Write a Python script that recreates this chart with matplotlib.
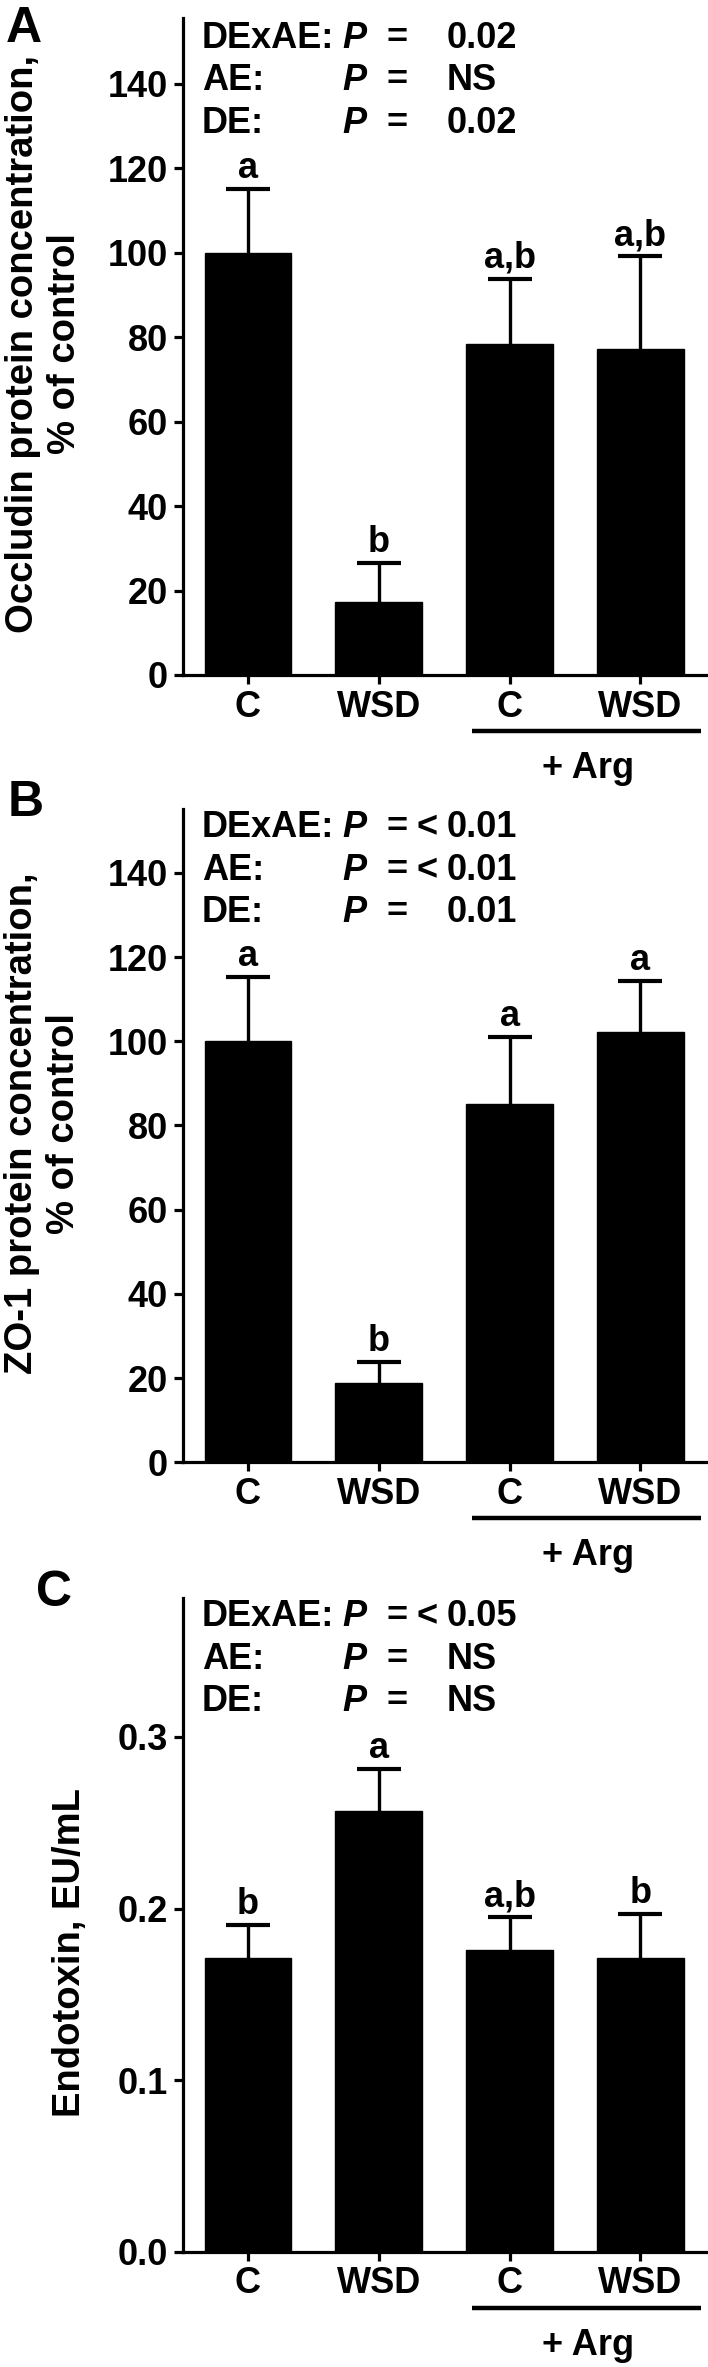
import matplotlib.pyplot as plt
from matplotlib.transforms import blended_transform_factory

plt.rcParams['font.family'] = ['Liberation Sans', 'DejaVu Sans']
plt.rcParams['font.weight'] = 'bold'
plt.rcParams['font.size'] = 26

groups = ['C', 'WSD', 'C', 'WSD']

occludin_mean = [100, 17.4, 78.5, 77.1]
occludin_err = [15.1, 9.2, 15.4, 22.1]
occludin_letters = ['a', 'b', 'a,b', 'a,b']
occludin_stats = [('DExAE:', '', '0.02'), ('AE:', '', 'NS'), ('DE:', '', '0.02')]

zo1_mean = [100, 18.8, 85.2, 102.2]
zo1_err = [15.2, 5.1, 15.8, 12.1]
zo1_letters = ['a', 'b', 'a', 'a']
zo1_stats = [('DExAE:', '<', '0.01'), ('AE:', '<', '0.01'), ('DE:', '', '0.01')]

endo_mean = [0.171, 0.257, 0.176, 0.171]
endo_err = [0.0195, 0.0241, 0.019, 0.026]
endo_letters = ['b', 'a', 'a,b', 'b']
endo_stats = [('DExAE:', '<', '0.05'), ('AE:', '', 'NS'), ('DE:', '', 'NS')]

W, H = 708, 2367
fig = plt.figure(figsize=(W / 100, H / 100), dpi=100)


def add_panel(top, bottom, mean, err, letters, stats, ymax, yticks, ticklabels, stat_y):
    ax = fig.add_axes([182.7 / W, 1 - bottom / H, 1 - 182.7 / W, (bottom - top) / H])
    x = list(range(len(mean)))
    ax.bar(x, mean, width=0.66, color='black', edgecolor='black', zorder=2)
    _, caps, _ = ax.errorbar(x, mean, yerr=[[0] * len(err), err], fmt='none',
                             ecolor='black', elinewidth=2.4, capsize=16, capthick=3,
                             zorder=1)
    caps[0].set_visible(False)  # no lower caps on the bar tops
    ax.set_xlim(-0.497, 3.516)
    ax.set_ylim(0, ymax)
    ax.set_yticks(yticks)
    ax.set_yticklabels(ticklabels)
    ax.set_xticks(x)
    ax.set_xticklabels(groups)
    for s in ['top', 'right']:
        ax.spines[s].set_visible(False)
    for s in ['left', 'bottom']:
        ax.spines[s].set_linewidth(2.3)
    ax.tick_params(axis='both', direction='out', length=6.5, width=2.3, labelsize=26)
    ax.tick_params(axis='y', pad=4)
    ax.tick_params(axis='x', pad=4)

    for xi, m, e, lab in zip(x, mean, err, letters):
        ax.annotate(lab, (xi, m + e), xytext=(0, 8), textcoords='offset points',
                    ha='center', va='baseline', fontsize=26, fontweight='bold')

    for (name, sign, val), y in zip(stats, stat_y):
        ax.text(-0.35, y, name, ha='left', va='baseline')
        ax.text(0.72, y, 'P', ha='left', va='baseline', style='italic')
        ax.text(1.06, y, '=', ha='left', va='baseline')
        if sign:
            ax.text(1.29, y, sign, ha='left', va='baseline')
        ax.text(1.52, y, val, ha='left', va='baseline')

    h = bottom - top
    tr = blended_transform_factory(ax.transData, ax.transAxes)
    ax.plot([1.71, 3.46], [-56 / h, -56 / h], color='black', lw=3.2,
            transform=tr, clip_on=False, solid_capstyle='butt')
    ax.text(2.60, -76 / h, '+ Arg', transform=tr, ha='center', va='top', fontsize=26)
    return ax


add_panel(18.4, 675, occludin_mean, occludin_err, occludin_letters, occludin_stats,
          155.5, range(0, 141, 20), [str(v) for v in range(0, 141, 20)],
          [148.5, 138.6, 128.4])
add_panel(809.3, 1462.3, zo1_mean, zo1_err, zo1_letters, zo1_stats,
          155.1, range(0, 141, 20), [str(v) for v in range(0, 141, 20)],
          [148.5, 138.3, 128.4])
add_panel(1598.4, 2251.8, endo_mean, endo_err, endo_letters, endo_stats,
          0.3807, [0, 0.1, 0.2, 0.3], ['0.0', '0.1', '0.2', '0.3'],
          [0.3645, 0.3397, 0.3149])

# y axis titles
fig.text(44 / W, 1 - 344 / H, 'Occludin protein concentration,\n% of control',
         rotation=90, ha='center', va='center', fontsize=27.5, multialignment='center')
fig.text(43 / W, 1 - 1123 / H, 'ZO-1 protein concentration,\n% of control',
         rotation=90, ha='center', va='center', fontsize=27.5, multialignment='center')
fig.text(70 / W, 1 - 1953 / H, 'Endotoxin, EU/mL',
         rotation=90, ha='center', va='center', fontsize=27.5)

# panel letters
fig.text(6 / W, 1 - 42 / H, 'A', fontsize=36, ha='left', va='baseline')
fig.text(8 / W, 1 - 816 / H, 'B', fontsize=36, ha='left', va='baseline')
fig.text(36 / W, 1 - 1606 / H, 'C', fontsize=36, ha='left', va='baseline')

fig.savefig('out.png', dpi=100)
